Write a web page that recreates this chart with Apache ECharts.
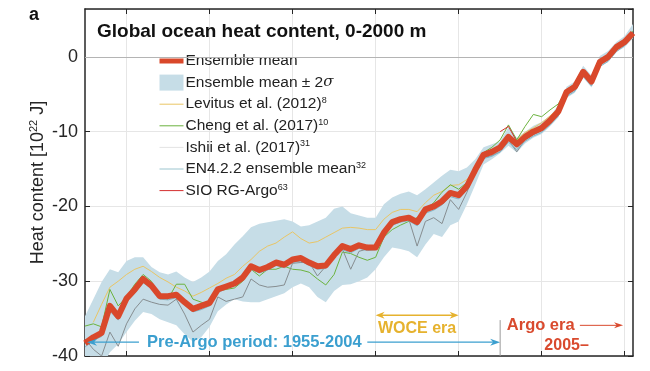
<!DOCTYPE html>
<html><head><meta charset="utf-8">
<script src="https://cdn.jsdelivr.net/npm/echarts@6/dist/echarts.min.js"></script>
<style>html,body{margin:0;padding:0;background:#fff}#c{width:650px;height:371px}</style>
</head><body><div id="c"></div><script>
const years = ['1955','1956','1957','1958','1959','1960','1961','1962','1963','1964',
'1965','1966','1967','1968','1969','1970','1971','1972','1973','1974',
'1975','1976','1977','1978','1979','1980','1981','1982','1983','1984',
'1985','1986','1987','1988','1989','1990','1991','1992','1993','1994',
'1995','1996','1997','1998','1999','2000','2001','2002','2003','2004',
'2005','2006','2007','2008','2009','2010','2011','2012','2013','2014',
'2015','2016','2017','2018','2019','2020','2021'];

const ensembleMean = [-38.3,-37.5,-36.9,-33.3,-34.7,-32.3,-31.1,-29.7,-30.6,-32.0,
-32.0,-31.8,-32.8,-33.7,-33.3,-32.9,-31.1,-30.7,-30.3,-29.5,
-28.0,-28.5,-28.1,-27.5,-27.8,-27.1,-26.9,-27.5,-28.0,-27.9,
-26.5,-25.3,-25.7,-25.2,-25.5,-25.5,-23.5,-22.1,-21.7,-21.5,
-22.1,-20.4,-20.0,-19.3,-18.2,-18.5,-17.3,-15.1,-13.1,-12.7,
-12.1,-10.7,-11.7,-10.7,-10.0,-9.5,-8.5,-7.3,-4.7,-4.0,
-2.0,-3.3,-0.7,0.0,1.3,2.0,3.2];

const bandUpper = [-34.7,-32.4,-30.1,-28.4,-28.8,-27.3,-26.8,-26.8,-28.1,-28.8,
-29.1,-28.7,-29.5,-30.1,-29.5,-28.7,-27.3,-26.4,-25.1,-24.0,
-22.8,-22.3,-22.1,-21.9,-21.7,-22.0,-22.7,-22.5,-22.0,-21.5,
-20.3,-20.0,-20.9,-21.2,-21.5,-21.5,-19.7,-18.8,-18.3,-18.0,
-18.5,-17.7,-16.8,-15.9,-15.1,-15.3,-14.8,-13.7,-12.1,-11.7,
-11.3,-9.4,-10.8,-10.0,-9.2,-8.7,-7.9,-6.5,-4.0,-3.3,
-1.2,-2.5,0.1,0.8,2.0,2.8,4.4];

const bandLower = [-41.5,-42.0,-41.5,-39.5,-38.4,-36.8,-35.3,-34.1,-34.4,-35.1,
-35.5,-35.9,-37.1,-38.1,-37.5,-36.1,-34.0,-33.1,-32.4,-32.7,
-32.8,-32.8,-32.4,-32.0,-31.6,-30.8,-30.3,-30.8,-32.1,-32.8,
-31.3,-30.5,-30.4,-30.0,-29.5,-28.4,-26.8,-25.5,-25.7,-26.0,
-26.8,-25.1,-23.7,-24.1,-22.5,-22.0,-19.7,-17.1,-14.4,-13.7,
-12.9,-11.9,-12.8,-11.6,-10.8,-10.3,-9.3,-8.1,-5.5,-4.8,
-2.8,-4.1,-1.3,-0.7,0.7,1.3,2.5];

const levitus = [null,-35.5,-33.1,-30.8,-30.0,-29.1,-28.4,-28.0,-28.7,-29.5,
-30.1,-30.8,-31.3,-32.0,-31.5,-30.9,-30.3,-29.6,-29.1,-28.0,
-27.1,-26.0,-25.3,-24.9,-24.1,-23.4,-24.3,-24.9,-24.7,-24.1,
-23.5,-22.9,-22.8,-22.9,-23.1,-23.1,-21.7,-20.8,-20.4,-20.4,
-20.7,-19.5,-18.5,-18.0,-17.2,-17.1,-16.4,-15.1,-13.3,-12.4,
-11.9,-10.8,-11.1,-10.1,-9.5,-8.8,-7.9,-6.9,-4.9,-3.9,
-2.0,-2.8,-0.7,0.1,1.3,2.0,null];

const cheng = [-36.0,-35.7,-36.1,-31.1,-33.3,-32.1,-30.4,-29.1,-30.0,-32.1,
-32.4,-30.4,-30.4,-32.4,-32.8,-33.3,-31.3,-31.1,-30.9,-30.0,
-28.4,-29.3,-28.4,-28.4,-28.0,-28.4,-28.5,-28.8,-29.7,-30.5,
-29.1,-26.1,-26.3,-26.8,-27.2,-26.8,-24.1,-23.1,-22.5,-22.0,
-21.5,-20.4,-19.5,-18.1,-17.1,-17.7,-16.8,-14.8,-12.8,-12.1,
-11.1,-9.1,-11.1,-9.3,-7.7,-8.0,-7.1,-6.3,-4.4,-3.6,
-1.7,-2.8,-0.4,0.3,1.5,2.3,3.5];

const ishii = [-37.7,-39.1,-40.0,-36.8,-38.7,-35.7,-33.7,-32.4,-32.8,-33.1,
-33.2,-32.4,-34.4,-36.8,-35.9,-35.1,-32.1,-32.7,-32.4,-32.1,
-29.7,-30.5,-30.8,-30.7,-30.5,-27.6,-27.5,-27.5,-29.3,-28.0,
-26.1,-25.7,-28.4,-26.0,-25.7,-25.3,-23.7,-22.5,-22.0,-21.7,
-25.3,-22.0,-21.5,-22.3,-19.1,-20.4,-18.1,-15.3,-13.5,-13.2,
-12.7,-11.1,-12.7,-11.1,-10.4,-9.9,-8.9,-7.9,-5.1,-4.4,
-2.3,-3.6,-0.9,-0.4,0.9,1.7,2.8];

const en4 = [-38.8,-37.9,-37.4,-34.0,-35.2,-32.8,-31.6,-30.2,-31.0,-32.4,
-32.5,-32.2,-33.2,-34.1,-33.8,-33.3,-31.5,-31.0,-30.6,-29.8,
-28.4,-28.9,-28.5,-27.9,-28.2,-27.5,-27.3,-27.9,-28.4,-28.3,
-26.9,-25.8,-26.2,-25.6,-25.9,-25.8,-23.9,-22.5,-22.1,-21.9,
-22.6,-20.9,-20.5,-19.8,-18.7,-19.0,-17.8,-15.6,-13.6,-13.3,
-12.7,-11.4,-12.4,-11.3,-10.6,-10.1,-9.1,-7.9,-5.3,-4.6,
-2.6,-3.9,-1.3,-0.6,0.7,1.5,2.7];

const sioYears = ['2005','2006','2007','2008','2009','2010','2011','2012','2013','2014',
'2015','2016','2017','2018','2019','2020','2021'];
const sio = [-10.0,-9.3,-11.3,-10.5,-9.8,-9.3,-8.3,-7.1,-4.5,-3.8,
-1.8,-3.1,-0.5,0.2,1.5,2.2,3.3];

const yRange = {min: -40, max: 6.4, step: 10};

const names = ['Ensemble mean','Ensemble mean \u00b1 2\u03c3','Levitus et al. (2012)','Cheng et al. (2017)',
  'Ishii et al. (2017)','EN4.2.2 ensemble mean','SIO RG-Argo'];
const supers = ['', '', '8', '10', '31', '32', '63'];

const FONT = '"Liberation Sans", Arial, Helvetica, sans-serif';
const C = {
  mean: '#d9482b', band: '#c6dde7', lev: '#e9c565', cheng: '#6cb33f',
  ishii: '#868d90', en4: '#82b6c8', sio: '#d42f2f', axis: '#262626',
  grid: '#e6e6e6', blue: '#3b9fcf', gold: '#e6b22e', argo: '#d94a2e'
};

const tenYear = (i, v) => Number(v) % 10 === 0;
const bandDiff = bandUpper.map((u, i) => +(u - bandLower[i]).toFixed(2));

const chart = echarts.init(document.getElementById('c'));

const thin = (name, data, color) => ({
  name, type: 'line', data, symbol: 'none', silent: true, connectNulls: false,
  lineStyle: {color, width: 1}, itemStyle: {color}, z: 3
});

const xBase = {
  type: 'category', data: years, boundaryGap: false, gridIndex: 0,
  axisLine: {show: true, onZero: false, lineStyle: {color: C.axis, width: 1.5}},
  axisTick: {show: true, inside: true, length: 5, interval: tenYear, lineStyle: {color: C.axis, width: 1}},
  axisLabel: {show: false}
};

const hideSym = {opacity: 0};

const option = {
  animation: false,
  backgroundColor: '#fff',
  textStyle: {fontFamily: FONT},
  title: [
    {text: 'a', left: 29, top: 6, padding: 0,
     textStyle: {fontFamily: FONT, fontWeight: 'bold', fontSize: 18, color: '#111'}},
    {text: 'Global ocean heat content, 0-2000 m', left: 97, top: 22, padding: 0,
     textStyle: {fontFamily: FONT, fontWeight: 'bold', fontSize: 19, color: '#111'}}
  ],
  grid: {left: 85, right: 17, top: 9, bottom: 15},
  legend: {
    orient: 'vertical', left: 157, top: 53, padding: 0,
    itemWidth: 24, itemHeight: 16, itemGap: 5.6,
    selectedMode: false,
    textStyle: {
      fontFamily: FONT, fontSize: 15.5, color: '#222', padding: [0, 0, 0, -3],
      rich: {
        t: {fontFamily: FONT, fontSize: 15.5, lineHeight: 16, color: '#222'},
        i: {fontFamily: '"DejaVu Serif", serif', fontStyle: 'italic', fontSize: 15, lineHeight: 16, color: '#222'},
        s: {fontFamily: FONT, fontSize: 9, lineHeight: 9, verticalAlign: 'top', color: '#222'}
      }
    },
    formatter: function (name) {
      const k = names.indexOf(name);
      if (k === 1) return '{t|Ensemble mean \u00b1 2}{i|\u03c3}';
      return '{t|' + name + '}' + (supers[k] ? '{s|' + supers[k] + '}' : '');
    },
    data: [
      {name: names[0], itemStyle: hideSym, lineStyle: {width: 5, color: C.mean}},
      {name: names[1], icon: 'rect', itemStyle: {color: C.band, opacity: 1}},
      {name: names[2], itemStyle: hideSym, lineStyle: {width: 1, color: C.lev}},
      {name: names[3], itemStyle: hideSym, lineStyle: {width: 1, color: C.cheng}},
      {name: names[4], itemStyle: hideSym, lineStyle: {width: 1, color: '#e4e4e4'}},
      {name: names[5], itemStyle: hideSym, lineStyle: {width: 1, color: '#9cc5cf'}},
      {name: names[6], itemStyle: hideSym, lineStyle: {width: 1, color: C.sio}}
    ]
  },
  xAxis: [
    Object.assign({}, xBase, {position: 'bottom',
      splitLine: {show: true, interval: tenYear, lineStyle: {color: C.grid, width: 1}}}),
    Object.assign({}, xBase, {position: 'top', splitLine: {show: false}})
  ],
  yAxis: [
    {type: 'value', min: yRange.min, max: yRange.max, interval: yRange.step, position: 'left',
     axisLine: {show: true, onZero: false, lineStyle: {color: C.axis, width: 1.5}},
     axisTick: {show: true, inside: true, length: 5, lineStyle: {color: C.axis}},
     axisLabel: {fontFamily: FONT, fontSize: 18, color: C.axis, margin: 7, showMaxLabel: false},
     splitLine: {show: true, lineStyle: {color: C.grid, width: 1}},
     name: '{a|Heat content [10}{s|22}{a| J]}', nameLocation: 'middle', nameGap: 37,
     nameMoveOverlap: false,
     nameTextStyle: {rich: {
       a: {fontFamily: FONT, fontSize: 18, lineHeight: 20, color: C.axis},
       s: {fontFamily: FONT, fontSize: 11, lineHeight: 11, verticalAlign: 'top', color: C.axis}
     }}},
    {type: 'value', min: yRange.min, max: yRange.max, interval: yRange.step, position: 'right',
     axisLine: {show: true, onZero: false, lineStyle: {color: C.axis, width: 1.5}},
     axisTick: {show: true, inside: true, length: 5, lineStyle: {color: C.axis}},
     axisLabel: {show: false}, splitLine: {show: false}}
  ],
  series: [
    {name: 'bandBase', type: 'line', data: bandLower, stack: 'band', stackStrategy: 'all',
     symbol: 'none', silent: true, lineStyle: {width: 0, opacity: 0}, z: 1,
     markLine: {silent: true, symbol: 'none', label: {show: false},
       lineStyle: {color: '#b4b4b4', width: 1, type: 'solid'}, data: [{yAxis: 0}]}},
    {name: names[1], type: 'line', data: bandDiff, stack: 'band', stackStrategy: 'all',
     symbol: 'none', silent: true, lineStyle: {width: 0, opacity: 0},
     itemStyle: {color: C.band}, areaStyle: {color: C.band, opacity: 1}, z: 2},
    thin(names[2], levitus, C.lev),
    thin(names[3], cheng, C.cheng),
    thin(names[4], ishii, C.ishii),
    thin(names[5], en4, C.en4),
    thin(names[6], sioYears.map((y, i) => [y, sio[i]]), C.sio),
    {name: names[0], type: 'line', data: ensembleMean, symbol: 'none', silent: true,
     lineStyle: {color: C.mean, width: 6, join: 'round'}, itemStyle: {color: C.mean}, z: 5}
  ]
};
chart.setOption(option);

// ---- annotations placed in data coordinates ----
const preArgo = {label: 'Pre-Argo period: 1955-2004', from: 1955, to: 2005, gapFrom: 1961.5, gapTo: 1989, center: 1975.4, value: -38.15};
const woce = {label: 'WOCE era', from: 1990, to: 2000, value: -34.55, labelValue: -36.4};
const argo = {label: 'Argo era', labelStart: 2005.8, value: -35.9, arrowFrom: 2014.6, arrowTo: 2019.8,
  sub: '2005\u2013', subCenter: 2013.0, subValue: -38.55, lineYear: 2005, lineTop: -35.2};

function px(year, v) {
  const a = chart.convertToPixel({gridIndex: 0}, [years[0], v]);
  const b = chart.convertToPixel({gridIndex: 0}, [years[years.length - 1], v]);
  const f = (year - Number(years[0])) / (Number(years[years.length - 1]) - Number(years[0]));
  return [a[0] + (b[0] - a[0]) * f, a[1]];
}
function head(tip, dir, color, L, w) {
  const [x, y] = tip;
  return {type: 'polygon', silent: true, z: 20,
    shape: {points: [[x, y], [x - dir * L, y - w], [x - dir * L * 0.7, y], [x - dir * L, y + w]]},
    style: {fill: color}};
}
function seg(p, q, color, w) {
  return {type: 'line', silent: true, z: 20, shape: {x1: p[0], y1: p[1], x2: q[0], y2: q[1]},
    style: {stroke: color, lineWidth: w}};
}
function txt(p, text, color, size, align) {
  return {type: 'text', silent: true, z: 20, x: p[0], y: p[1],
    style: {text, fill: color, font: 'bold ' + size + 'px ' + FONT,
      align: align, textAlign: align, verticalAlign: 'middle', textVerticalAlign: 'middle'}};
}

const els = [];
// pre-Argo
const pa0 = px(preArgo.from, preArgo.value), pa1 = px(preArgo.gapFrom, preArgo.value);
const pa2 = px(preArgo.gapTo, preArgo.value), pa3 = px(preArgo.to, preArgo.value);
els.push(seg([pa0[0] + 5, pa0[1]], pa1, C.blue, 1.3), seg(pa2, [pa3[0] - 5, pa3[1]], C.blue, 1.3));
els.push(head([pa0[0] + 2, pa0[1]], -1, C.blue, 10, 3.5), head(pa3, 1, C.blue, 10, 3.5));
els.push(txt(px(preArgo.center, preArgo.value), preArgo.label, C.blue, 16.5, 'center'));
// WOCE
const w0 = px(woce.from, woce.value), w1 = px(woce.to, woce.value);
els.push(seg([w0[0] + 5, w0[1]], [w1[0] - 5, w1[1]], C.gold, 1.3));
els.push(head(w0, -1, C.gold, 9, 3.5), head(w1, 1, C.gold, 9, 3.5));
els.push(txt(px((woce.from + woce.to) / 2, woce.labelValue), woce.label, C.gold, 16, 'center'));
// Argo
const l0 = px(argo.lineYear, argo.lineTop), l1 = px(argo.lineYear, yRange.min);
els.push(seg(l0, l1, '#9a9a9a', 1));
els.push(txt(px(argo.labelStart, argo.value), argo.label, C.argo, 16.5, 'left'));
const a0 = px(argo.arrowFrom, argo.value), a1 = px(argo.arrowTo, argo.value);
els.push(seg(a0, [a1[0] - 5, a1[1]], C.argo, 1), head(a1, 1, C.argo, 9, 3));
els.push(txt(px(argo.subCenter, argo.subValue), argo.sub, C.argo, 16, 'center'));

chart.setOption({graphic: {elements: els}});
</script></body></html>
